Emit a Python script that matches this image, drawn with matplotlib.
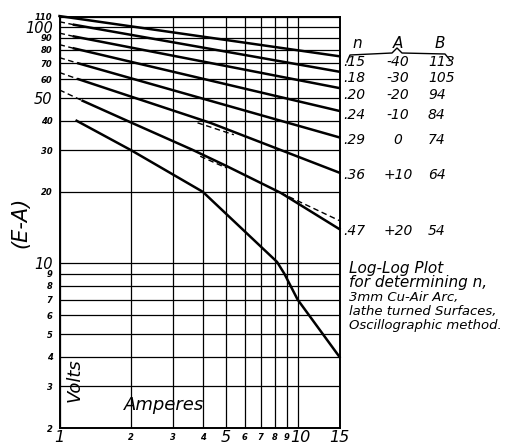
import matplotlib.pyplot as plt
from matplotlib.lines import Line2D
from matplotlib.transforms import ScaledTranslation

# table of the fitted constants, (E-A) = B / I^n
N_VALUES = [".15", ".18", ".20", ".24", ".29", ".36", ".47"]
A_VALUES = ["-40", "-30", "-20", "-10", "0", "+10", "+20"]
B_VALUES = ["113", "105", "94", "84", "74", "64", "54"]

# solid curves (amperes, volts)
N15_I, N15_V = [1.0, 15], [111, 75]
N18_I, N18_V = [1.15, 15], [102, 64.5]
N20_I, N20_V = [1.15, 15], [91, 55]
N24_I, N24_V = [1.15, 15], [81, 44]
N29_I, N29_V = [1.2, 15], [70, 34]
N36_I, N36_V = [1.2, 3.0, 4.3, 15], [60, 44.2, 39.2, 24.1]
N47_I, N47_V = [1.25, 2.0, 3.6, 5.0, 8.5, 15], [48.6, 39.3, 30.2, 25.8, 19.8, 13.9]
BOTTOM_I = [1.18, 2.0, 4.0, 8.2, 8.8, 10.0, 15.0]
BOTTOM_V = [40, 30, 20, 10.1, 9.0, 7.0, 4.0]

# dashed extrapolations of the fitted lines
DASH_SEGMENTS = [
    ([1.0, 1.15], [105, 102]),
    ([1.0, 1.15], [94, 91]),
    ([1.0, 1.15], [84, 81]),
    ([1.0, 1.2], [74, 70]),
    ([1.0, 1.2], [64, 60]),
    ([3.8, 5.4], [39.2, 34.9]),
    ([1.0, 1.25], [54, 48.6]),
    ([3.9, 5.0], [28.3, 25.3]),
    ([8.5, 15], [19.8, 15.1]),
]

X_GRID = [1, 2, 3, 4, 5, 6, 7, 8, 9, 10, 15]
X_BIG = [1, 5, 10, 15]
Y_GRID = [2, 3, 4, 5, 6, 7, 8, 9, 10, 20, 30, 40, 50, 60, 70, 80, 90, 100, 110]
Y_BIG = [10, 50, 100]

NOTE_LINES = ["Log-Log Plot", "for determining n,", "3mm Cu-Air Arc,",
              "lathe turned Surfaces,", "Oscillographic method."]

W, H = 520, 445
FONT = dict(family="DejaVu Sans", style="italic", color="black")


def px(x, y):
    return x / W, 1 - y / H


fig = plt.figure(figsize=(W / 100, H / 100), dpi=100)
ax = fig.add_axes([59.5 / W, 1 - 428 / H, 280 / W, 411 / H])
ax.set_xscale("log")
ax.set_yscale("log")
ax.set_xlim(1, 15)
ax.set_ylim(2, 110)
ax.set_xticks(X_GRID)
ax.set_yticks(Y_GRID)
ax.set_xticklabels([str(v) for v in X_GRID])
ax.set_yticklabels([str(v) for v in Y_GRID])
ax.minorticks_off()
ax.tick_params(axis="x", length=0, pad=1.5)
ax.tick_params(axis="y", length=0, pad=5)
for lab, v in zip(ax.get_xticklabels(), X_GRID):
    big = v in X_BIG
    lab.set_fontsize(11.5 if big else 6)
    lab.set_fontstyle("italic")
    lab.set_fontweight("normal" if big else "bold")
    if not big:
        lab.set_y(-0.008)
    if v == 10:
        lab.set_transform(lab.get_transform()
                          + ScaledTranslation(3 / 100, 0, fig.dpi_scale_trans))
for lab, v in zip(ax.get_yticklabels(), Y_GRID):
    big = v in Y_BIG
    lab.set_fontsize(10.5 if big else 6)
    lab.set_fontstyle("italic")
    lab.set_fontweight("normal" if big else "bold")
ax.grid(True, color="black", lw=0.9)
for spine in ax.spines.values():
    spine.set_linewidth(1.4)

for xs, ys in [(N15_I, N15_V), (N18_I, N18_V), (N20_I, N20_V), (N24_I, N24_V),
               (N29_I, N29_V), (N36_I, N36_V), (N47_I, N47_V),
               (BOTTOM_I, BOTTOM_V)]:
    ax.plot(xs, ys, color="black", lw=1.8, clip_on=False)
for xs, ys in DASH_SEGMENTS:
    ax.plot(xs, ys, color="black", lw=1.0, ls=(0, (4, 2.5)), clip_on=False)

ax.text(0.022, 0.072, "Volts", rotation=90, transform=ax.transAxes,
        fontsize=13, **FONT)
ax.text(0.23, 0.045, "Amperes", transform=ax.transAxes, fontsize=13, **FONT)
fig.text(*px(20, 222), "(E-A)", rotation=90, ha="center", va="center",
         fontsize=15, **FONT)

# constants table
row_y = [62, 78, 95, 115, 140, 175, 231]
fig.text(*px(357, 44), "n", ha="center", va="center", fontsize=11, **FONT)
fig.text(*px(398, 44), "A", ha="center", va="center", fontsize=11, **FONT)
fig.text(*px(440, 44), "B", ha="center", va="center", fontsize=11, **FONT)
bx = [347, 350, 392, 397, 402, 445, 450]
by = [62, 55, 53, 48, 53, 54, 60]
fig.add_artist(Line2D([x / W for x in bx], [1 - y / H for y in by],
                      color="black", lw=1.0, transform=fig.transFigure))
for y, n, a, b in zip(row_y, N_VALUES, A_VALUES, B_VALUES):
    fig.text(*px(343, y), n, ha="left", va="center", fontsize=10, **FONT)
    fig.text(*px(398, y), a, ha="center", va="center", fontsize=10, **FONT)
    fig.text(*px(428, y), b, ha="left", va="center", fontsize=10, **FONT)

for k, line in enumerate(NOTE_LINES):
    size = 11 if k < 2 else 9.5
    fig.text(*px(349, 268 + 14.5 * k), line, ha="left", va="center",
             fontsize=size, **FONT)

fig.savefig("out.png", dpi=100)
